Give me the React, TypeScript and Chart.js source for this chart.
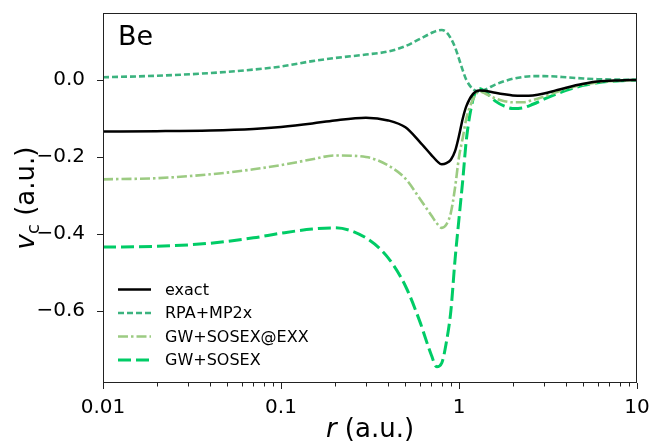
import React, { useEffect, useRef } from 'react';
import { Chart, registerables } from 'chart.js';
Chart.register(...registerables);

const FONT = '"DejaVu Sans", sans-serif';

const rValues = [0.01, 0.02, 0.04, 0.07, 0.1, 0.15, 0.2, 0.3, 0.4, 0.5, 0.6, 0.7, 0.75, 0.8, 0.85, 0.9, 0.95, 1.0, 1.05, 1.1, 1.2, 1.3, 1.4, 1.6, 1.8, 2.0, 2.3, 2.6, 3.0, 3.5, 4, 5, 6, 8, 10];
const exactValues = [-0.134, -0.133, -0.131, -0.127, -0.122, -0.113, -0.105, -0.098, -0.105, -0.123, -0.16, -0.195, -0.21, -0.219, -0.216, -0.207, -0.185, -0.145, -0.1, -0.068, -0.036, -0.027, -0.028, -0.033, -0.037, -0.04, -0.041, -0.04, -0.035, -0.027, -0.02, -0.01, -0.004, -0.001, 0];
const rpaValues = [0.007, 0.011, 0.018, 0.027, 0.035, 0.049, 0.057, 0.066, 0.074, 0.088, 0.106, 0.122, 0.128, 0.13, 0.124, 0.108, 0.085, 0.055, 0.025, 0.0, -0.024, -0.03, -0.025, -0.012, -0.003, 0.003, 0.008, 0.01, 0.01, 0.009, 0.007, 0.004, 0.002, 0.001, 0];
const exxValues = [-0.258, -0.255, -0.245, -0.232, -0.221, -0.206, -0.196, -0.2, -0.222, -0.256, -0.307, -0.352, -0.372, -0.384, -0.375, -0.345, -0.28, -0.2, -0.15, -0.1, -0.05, -0.03, -0.035, -0.048, -0.055, -0.058, -0.058, -0.052, -0.043, -0.032, -0.023, -0.012, -0.006, -0.002, 0];
const gwValues = [-0.434, -0.432, -0.424, -0.41, -0.398, -0.387, -0.384, -0.41, -0.462, -0.535, -0.625, -0.715, -0.745, -0.735, -0.68, -0.6, -0.467, -0.36, -0.26, -0.155, -0.05, -0.022, -0.03, -0.055, -0.068, -0.074, -0.072, -0.063, -0.05, -0.037, -0.027, -0.014, -0.007, -0.002, 0];

const seriesNames = ['exact', 'RPA+MP2x', 'GW+SOSEX@EXX', 'GW+SOSEX'];
const seriesValues = [exactValues, rpaValues, exxValues, gwValues];
const seriesColors = ['#000000', '#3cb37f', '#9ccb82', '#00cc66'];
const seriesWidths = [2.5, 2.6, 2.6, 3];
const seriesDashes: number[][] = [[], [6, 3], [10, 3, 2.5, 3], [13, 5]];

const xMajorTicks = [0.01, 0.1, 1, 10];
const xTickLabels = ['0.01', '0.1', '1', '10'];
const yTicks = [-0.6, -0.4, -0.2, 0.0];
const yMin = -0.787;
const yMax = 0.174;

const W = 651;
const H = 442;

const zeroPad = (s: any) => {
  s.paddingTop = 0;
  s.paddingBottom = 0;
  s.paddingLeft = 0;
  s.paddingRight = 0;
};

const overlay = {
  id: 'overlay',
  afterDraw(chart: any) {
    const ctx = chart.ctx as CanvasRenderingContext2D;
    const a = chart.chartArea;
    const xs = chart.scales.x;
    const ys = chart.scales.y;
    ctx.save();
    ctx.strokeStyle = '#222';
    ctx.lineWidth = 1;
    ctx.setLineDash([]);
    ctx.strokeRect(Math.round(a.left) + 0.5, Math.round(a.top) + 0.5, Math.round(a.right - a.left) - 1, Math.round(a.bottom - a.top) - 1);
    const bottom = Math.round(a.bottom);
    ctx.beginPath();
    xMajorTicks.forEach((v) => {
      const px = Math.round(xs.getPixelForValue(v)) + 0.5;
      ctx.moveTo(px, bottom);
      ctx.lineTo(px, bottom + 6);
    });
    for (let d = 0; d < xMajorTicks.length - 1; d++) {
      for (let k = 2; k <= 9; k++) {
        const px = Math.round(xs.getPixelForValue(xMajorTicks[d] * k)) + 0.5;
        ctx.moveTo(px, bottom);
        ctx.lineTo(px, bottom + 3.5);
      }
    }
    const left = Math.round(a.left);
    yTicks.forEach((v) => {
      const py = Math.round(ys.getPixelForValue(v)) + 0.5;
      ctx.moveTo(left, py);
      ctx.lineTo(left - 6, py);
    });
    ctx.stroke();

    ctx.fillStyle = '#000';
    ctx.font = `27px ${FONT}`;
    ctx.textAlign = 'left';
    ctx.textBaseline = 'alphabetic';
    ctx.fillText('Be', a.left + 15, a.top + 32);

    const rows = [289.5, 313, 336.5, 360];
    ctx.font = `16px ${FONT}`;
    ctx.textBaseline = 'middle';
    seriesNames.forEach((name, i) => {
      ctx.beginPath();
      ctx.strokeStyle = seriesColors[i];
      ctx.lineWidth = seriesWidths[i];
      ctx.setLineDash(seriesDashes[i]);
      ctx.moveTo(118, rows[i]);
      ctx.lineTo(151, rows[i]);
      ctx.stroke();
      ctx.setLineDash([]);
      ctx.fillStyle = '#000';
      ctx.fillText(name, 165, rows[i] + 1);
    });

    ctx.textBaseline = 'alphabetic';
    const xc = (a.left + a.right) / 2;
    ctx.font = `italic 26px ${FONT}`;
    const rw = ctx.measureText('r').width;
    ctx.font = `26px ${FONT}`;
    const restX = ' (a.u.)';
    const rrw = ctx.measureText(restX).width;
    const x0 = xc - (rw + rrw) / 2;
    ctx.font = `italic 26px ${FONT}`;
    ctx.fillText('r', x0, 437);
    ctx.font = `26px ${FONT}`;
    ctx.fillText(restX, x0 + rw, 437);

    ctx.save();
    ctx.translate(34, (a.top + a.bottom) / 2);
    ctx.rotate(-Math.PI / 2);
    ctx.font = `italic 26px ${FONT}`;
    const vw = ctx.measureText('v').width;
    ctx.font = `18px ${FONT}`;
    const cw = ctx.measureText('c').width;
    ctx.font = `26px ${FONT}`;
    const restY = ' (a.u.)';
    const ryw = ctx.measureText(restY).width;
    const total = vw + cw + ryw;
    let sx = -total / 2;
    ctx.font = `italic 26px ${FONT}`;
    ctx.fillText('v', sx, 0);
    sx += vw;
    ctx.font = `18px ${FONT}`;
    ctx.fillText('c', sx, 5);
    sx += cw;
    ctx.font = `26px ${FONT}`;
    ctx.fillText(restY, sx, 0);
    ctx.restore();

    ctx.restore();
  },
};

export default function App() {
  const ref = useRef<HTMLCanvasElement | null>(null);
  useEffect(() => {
    if (!ref.current) return;
    const chart = new Chart(ref.current, {
      type: 'line',
      data: {
        datasets: seriesNames.map((name, i) => ({
          label: name,
          data: rValues.map((r, j) => ({ x: r, y: seriesValues[i][j] })),
          borderColor: seriesColors[i],
          borderWidth: seriesWidths[i],
          borderDash: seriesDashes[i],
          pointRadius: 0,
          fill: false,
          cubicInterpolationMode: 'monotone' as const,
        })),
      },
      options: {
        responsive: false,
        animation: false,
        devicePixelRatio: 1,
        layout: { padding: { left: 0, right: 14, top: 13, bottom: 0 } },
        plugins: { legend: { display: false }, tooltip: { enabled: false } },
        scales: {
          x: {
            type: 'logarithmic',
            min: 0.01,
            max: 10,
            afterBuildTicks: (s: any) => {
              s.ticks = xMajorTicks.map((v) => ({ value: v }));
            },
            afterFit: (s: any) => {
              s.height = H - 383;
              zeroPad(s);
            },
            grid: { display: false },
            border: { display: false },
            ticks: {
              autoSkip: false,
              maxRotation: 0,
              padding: 5,
              color: '#000',
              font: { family: FONT, size: 20 },
              callback: (v: any) => {
                const idx = xMajorTicks.findIndex((t) => Math.abs(t - Number(v)) < 1e-9);
                return idx >= 0 ? xTickLabels[idx] : '';
              },
            },
          },
          y: {
            type: 'linear',
            min: yMin,
            max: yMax,
            afterBuildTicks: (s: any) => {
              s.ticks = yTicks.map((v) => ({ value: v }));
            },
            afterFit: (s: any) => {
              s.width = 103;
              zeroPad(s);
            },
            grid: { display: false },
            border: { display: false },
            ticks: {
              padding: 10,
              color: '#000',
              font: { family: FONT, size: 20 },
              callback: (v: any) => {
                const n = Number(v);
                const s = Math.abs(n).toFixed(1);
                return n < -1e-9 ? '\u2212' + s : s;
              },
            },
          },
        },
      },
      plugins: [overlay],
    });
    return () => chart.destroy();
  }, []);
  return (
    <div style={{ position: 'fixed', left: 0, top: 0, width: W, height: H, background: '#fff' }}>
      <canvas ref={ref} width={W} height={H} style={{ width: W, height: H, display: 'block' }} />
    </div>
  );
}
